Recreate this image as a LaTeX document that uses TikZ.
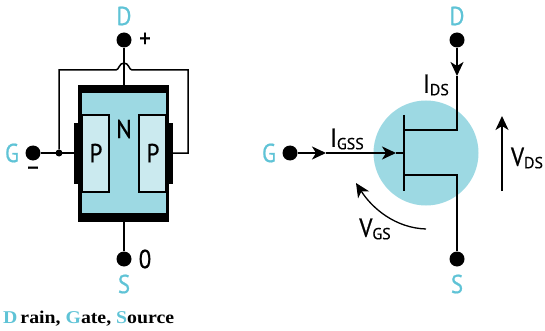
\documentclass[tikz,border=0pt]{standalone}
\usepackage{fontspec}
\usepackage{tikz}
\usetikzlibrary{arrows.meta}
\newfontfamily\labelfont[FakeStretch=0.88,FakeBold=0.7]{PT Sans}
\newfontfamily\subfont[FakeStretch=1.0,FakeBold=0.4]{PT Sans}
\newfontfamily\captionfont[FakeStretch=1.1]{Liberation Serif}
\definecolor{bodyblue}{HTML}{9DD9E3}
\definecolor{pale}{HTML}{CBEAEF}
\definecolor{termblue}{HTML}{5FC3D6}
\newcommand{\sublabel}[2]{#1\raisebox{-2.5pt}{\subfont\fontsize{16}{16}\selectfont #2}}
\tikzset{
	terminal/.style={draw=none,fill=black,circle,inner sep=0pt,minimum size=15pt},
	termtext/.style={font=\labelfont\fontsize{26}{26}\selectfont,text=termblue,inner sep=0pt},
	bodytext/.style={font=\labelfont\fontsize{26}{26}\selectfont,inner sep=0pt},
	wire/.style={line width=1.5pt},
	flow/.style={line width=1.8pt,-{Stealth[length=14pt,width=13pt,inset=4pt]}}
}
\begin{document}
\begin{tikzpicture}[x=1pt,y=-1pt]
		\useasboundingbox (0,0) rectangle (545,331);
		
		% the transistor body with its two gate blocks
		\fill[black] (78,85) rectangle (169,222);
		\fill[bodyblue] (82,93) rectangle (166,213);
		\fill[black] (74,123) rectangle (82,184);
		\fill[black] (166,123) rectangle (173,184);
		\node[draw,line width=1.3pt,fill=pale,minimum width=27pt,minimum height=77pt,inner sep=0pt] (pl) at (95.5,153.5) {};
		\node[draw,line width=1.3pt,fill=pale,minimum width=27pt,minimum height=77pt,inner sep=0pt] (pr) at (152.5,153.5) {};
		\node[bodytext] (pltext) at (96,153) {P};
		\node[bodytext] (prtext) at (153,153) {P};
		\node[bodytext] (ntext) at (124,129) {N};
		
		% the terminals on the left
		\node[terminal] (dl) at (124,40) {};
		\node[terminal] (gl) at (33,153) {};
		\node[terminal] (sl) at (124,259) {};
		\node[draw=none,fill=black,circle,inner sep=0pt,minimum size=7pt] (jn) at (59,153) {};
		\coordinate (bt) at (124,85);
		\coordinate (bb) at (124,222);
		\coordinate (gb) at (74,153);
		\coordinate (gr) at (173,153);
		\draw[wire] (dl) -- (bt);
		\draw[wire] (sl) -- (bb);
		\draw[wire] (gl) -- (gb);
		\draw[wire] (jn) -- (59,70) -- (116,70) .. controls (119,70) and (119,63) .. (124,63) .. controls (129,63) and (129,70) .. (132,70) -- (188,70) -- (188,153) -- (gr);
		\node[termtext] (dltext) at (124,16) {D};
		\node[termtext] (gltext) at (12,153) {G};
		\node[termtext] (sltext) at (124,284) {S};
		\node[bodytext] (plus) at (145,40) {+};
		\node[bodytext] (minus) at (33,171) {–};
		\node[bodytext] (zero) at (145,259) {0};
		
		% the symbol on the right
		\node[fill=bodyblue,circle,inner sep=0pt,minimum size=105pt] (ci) at (426,153) {};
		\node[terminal] (dr) at (457,40) {};
		\node[terminal] (gr2) at (290,153) {};
		\node[terminal] (sr) at (457,259) {};
		\coordinate (bu) at (404,115);
		\coordinate (bd) at (404,191);
		\coordinate (bm) at (404,153);
		\coordinate (tu) at (404,130);
		\coordinate (td) at (404,175);
		\coordinate (ku) at (457,130);
		\coordinate (kd) at (457,175);
		\coordinate (ad) at (457,76);
		\coordinate (a1) at (326,153);
		\coordinate (a2) at (396,153);
		\draw[line width=2pt] (bu) -- (bd);
		\draw[wire] (tu) -- (ku) -- (ad);
		\draw[wire] (td) -- (kd) -- (sr);
		\draw[flow] (dr) -- (ad);
		\draw[flow] (gr2) -- (a1);
		\draw[flow] (a1) -- (a2);
		\draw[line width=1.8pt] (a2) -- (bm);
		
		% the arrows and labels
		\coordinate (vt) at (502,116);
		\coordinate (vb) at (502,191);
		\coordinate (gsa) at (426,229);
		\coordinate (gsb) at (356,183);
		\draw[flow] (vb) -- (vt);
		\draw[flow,line width=1.3pt] (gsa) .. controls (395,228) and (372,208) .. (gsb);
		\node[termtext] (drtext) at (457,16) {D};
		\node[termtext] (grtext) at (269,153) {G};
		\node[termtext] (srtext) at (457,284) {S};
		\node[bodytext] (ids) at (436,85) {\sublabel{I}{DS}};
		\node[bodytext] (igss) at (347,139) {\sublabel{I}{GSS}};
		\node[bodytext] (vds) at (527,158) {\sublabel{V}{DS}};
		\node[bodytext] (vgs) at (375,229) {\sublabel{V}{GS}};
		\node[anchor=west,inner sep=0pt,font=\captionfont\bfseries\fontsize{18}{18}\selectfont] (cap) at (3,319) {\textcolor{termblue}{D}\,rain, \textcolor{termblue}{G}ate, \textcolor{termblue}{S}ource};
		\end{tikzpicture}
\end{document}
